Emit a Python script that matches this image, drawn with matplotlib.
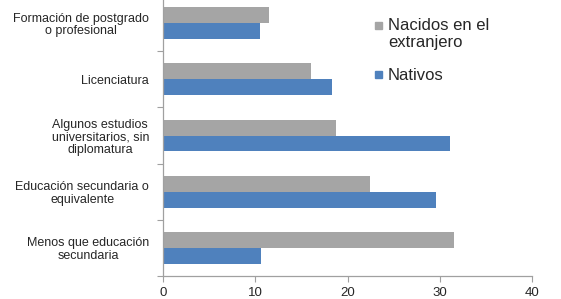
import matplotlib
matplotlib.use("Agg")
import matplotlib.pyplot as plt
from matplotlib.patches import Rectangle
import numpy as np

plt.rcParams['font.family'] = ['Liberation Sans', 'DejaVu Sans']

categories = [
    "Formación de postgrado\no profesional",
    "Licenciatura",
    "Algunos estudios\nuniversitarios, sin\ndiplomatura",
    "Educación secundaria o\nequivalente",
    "Menos que educación\nsecundaria",
]
series_names = ["Nacidos en el\nextranjero", "Nativos"]
extranjero = [11.5, 16.0, 18.8, 22.4, 31.5]
nativos = [10.5, 18.3, 31.1, 29.6, 10.6]
xticks = [0, 10, 20, 30, 40]

gray = "#A5A5A5"
blue = "#4F81BD"
txt = "#262626"

W, H = 561, 299
fig = plt.figure(figsize=(W/100, H/100), dpi=100)
ax = fig.add_axes([163/W, 23/H, (532-163)/W, 281/H])

y = np.arange(len(categories))
h = 0.283
ax.barh(y - h/2, extranjero, height=h, color=gray, label=series_names[0])
ax.barh(y + h/2, nativos, height=h, color=blue, label=series_names[1])

ax.set_ylim(4.5, -0.5)
ax.set_xlim(0, 40)
ax.set_xticks(xticks)
ax.set_xticklabels([str(v) for v in xticks], fontsize=9.5, color=txt)

ax.set_yticks(y)
ax.set_yticklabels(categories, fontsize=9, color=txt, ha="right",
                   multialignment="center", linespacing=1.05)
ax.tick_params(axis='y', length=0, pad=10)
ax.set_yticks(np.arange(-0.5, 5.0, 1.0), minor=True)
ax.tick_params(axis='y', which='minor', length=4, color="#A0A0A0", width=0.8)
ax.tick_params(axis='x', length=4, color="#A0A0A0", width=0.8, pad=4)

for s in ['top', 'right']:
    ax.spines[s].set_visible(False)
for s in ['left', 'bottom']:
    ax.spines[s].set_color("#A0A0A0")
    ax.spines[s].set_linewidth(0.9)

# Legend drawn to match the reference layout (marker aligned with first line)
leg_colors = [gray, blue]
leg_top = [18.5, 67.5]      # top of text block, pixels from top
leg_marker = [25.0, 74.5]   # marker centre, pixels from top
for name, col, yt, ym in zip(series_names, leg_colors, leg_top, leg_marker):
    fig.patches.append(Rectangle((375/W, 1 - (ym + 3.5)/H), 7/W, 7/H,
                                 transform=fig.transFigure, color=col))
    fig.text(388/W, 1 - yt/H, name, fontsize=12, color=txt,
             ha="left", va="top", linespacing=1.12)

fig.savefig("out.png", dpi=100)
